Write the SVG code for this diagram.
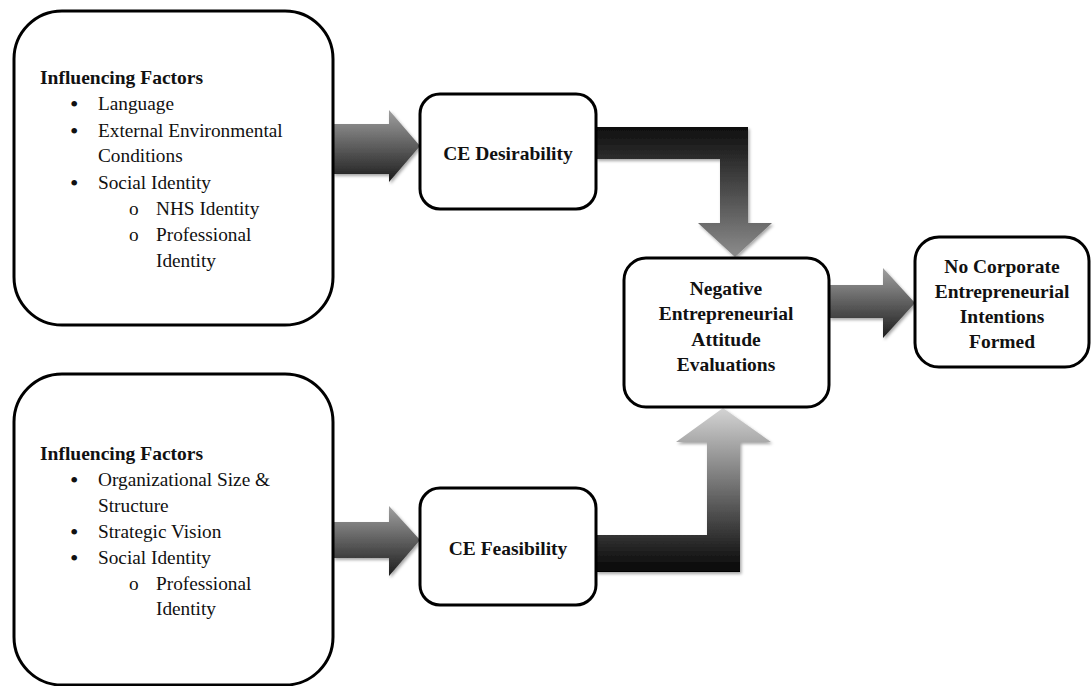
<svg xmlns="http://www.w3.org/2000/svg" width="1091" height="686" viewBox="0 0 1091 686">
  <style>
    .box { fill: #ffffff; stroke: #000000; stroke-width: 3; }
    .title { font-family: "Liberation Serif", "Times New Roman", serif; font-size: 19.5px; font-weight: bold; fill: #111111; }
    .ctr { text-anchor: middle; }
    .item { font-family: "Liberation Serif", "Times New Roman", serif; font-size: 19.3px; fill: #111111; }
    .dot { font-family: "Liberation Serif", "Times New Roman", serif; font-size: 24px; fill: #111111; }
  </style>
  <defs>
    <linearGradient id="gradRight" x1="0" y1="0" x2="0" y2="1">
      <stop offset="0" stop-color="#a0a0a0"/>
      <stop offset="1" stop-color="#1c1c1c"/>
    </linearGradient>
    <linearGradient id="gradDown" gradientUnits="userSpaceOnUse" x1="0" y1="127" x2="0" y2="257">
      <stop offset="0" stop-color="#0e0e0e"/>
      <stop offset="1" stop-color="#8c8c8c"/>
    </linearGradient>
    <linearGradient id="gradUp" gradientUnits="userSpaceOnUse" x1="0" y1="408" x2="0" y2="572">
      <stop offset="0" stop-color="#d4d4d4"/>
      <stop offset="1" stop-color="#050505"/>
    </linearGradient>
    <filter id="shadow" x="-10%" y="-10%" width="130%" height="130%">
      <feDropShadow dx="1.5" dy="2" stdDeviation="1.5" flood-color="#000000" flood-opacity="0.35"/>
    </filter>
  </defs>

  <!-- connectors -->
  <g id="connectors" filter="url(#shadow)">
    <polygon id="arrow-factors1-desirability" fill="url(#gradRight)" points="333,124 389,124 389,110 420,146 389,182 389,174 333,174"/>
    <polygon id="arrow-factors2-feasibility" fill="url(#gradRight)" points="333,522 389,522 389,506 420,540 389,576 389,558 333,558"/>
    <polygon id="arrow-desirability-attitude" fill="url(#gradDown)" points="596,127 748,127 748,223 772,223 735,257 698,223 720,223 720,159 596,159"/>
    <polygon id="arrow-feasibility-attitude" fill="url(#gradUp)" points="596,535 707,535 707,442 676,442 723,408 771,442 740,442 740,572 596,572"/>
    <polygon id="arrow-attitude-intentions" fill="url(#gradRight)" points="829,285 883,285 883,268 915,303 883,338 883,318 829,318"/>
  </g>

  <!-- influencing factors: desirability -->
  <g id="node-factors-desirability">
    <rect class="box" x="14" y="11" width="319" height="314" rx="48" ry="48"/>
    <text class="title" x="40" y="84">Influencing Factors</text>
    <g class="dot">
      <text x="70" y="112">•</text>
      <text x="70" y="139">•</text>
      <text x="70" y="191">•</text>
    </g>
    <g class="item">
      <text x="98" y="110">Language</text>
      <text x="98" y="137">External Environmental</text>
      <text x="98" y="162">Conditions</text>
      <text x="98" y="189">Social Identity</text>
      <text x="129" y="215">o</text><text x="156" y="215">NHS Identity</text>
      <text x="129" y="241">o</text><text x="156" y="241">Professional</text>
      <text x="156" y="267">Identity</text>
    </g>
  </g>

  <!-- influencing factors: feasibility -->
  <g id="node-factors-feasibility">
    <rect class="box" x="14" y="374" width="319" height="311" rx="48" ry="48"/>
    <text class="title" x="40" y="460">Influencing Factors</text>
    <g class="dot">
      <text x="70" y="488">•</text>
      <text x="70" y="540">•</text>
      <text x="70" y="566">•</text>
    </g>
    <g class="item">
      <text x="98" y="486">Organizational Size &amp;</text>
      <text x="98" y="512">Structure</text>
      <text x="98" y="538">Strategic Vision</text>
      <text x="98" y="564">Social Identity</text>
      <text x="129" y="590">o</text><text x="156" y="590">Professional</text>
      <text x="156" y="615">Identity</text>
    </g>
  </g>

  <!-- CE desirability -->
  <g id="node-desirability">
    <rect class="box" x="420" y="94" width="176" height="115" rx="20" ry="20"/>
    <text class="title ctr" x="508" y="160">CE Desirability</text>
  </g>

  <!-- CE feasibility -->
  <g id="node-feasibility">
    <rect class="box" x="420" y="488" width="176" height="117" rx="20" ry="20"/>
    <text class="title ctr" x="508" y="555">CE Feasibility</text>
  </g>

  <!-- attitude evaluations -->
  <g id="node-attitude">
    <rect class="box" x="624" y="258" width="205" height="149" rx="22" ry="22"/>
    <text class="title ctr" x="726" y="295">Negative</text>
    <text class="title ctr" x="726" y="320">Entrepreneurial</text>
    <text class="title ctr" x="726" y="346">Attitude</text>
    <text class="title ctr" x="726" y="371">Evaluations</text>
  </g>

  <!-- outcome -->
  <g id="node-intentions">
    <rect class="box" x="915" y="237" width="174" height="130" rx="24" ry="24"/>
    <text class="title ctr" x="1002" y="273">No Corporate</text>
    <text class="title ctr" x="1002" y="298">Entrepreneurial</text>
    <text class="title ctr" x="1002" y="323">Intentions</text>
    <text class="title ctr" x="1002" y="348">Formed</text>
  </g>
</svg>
